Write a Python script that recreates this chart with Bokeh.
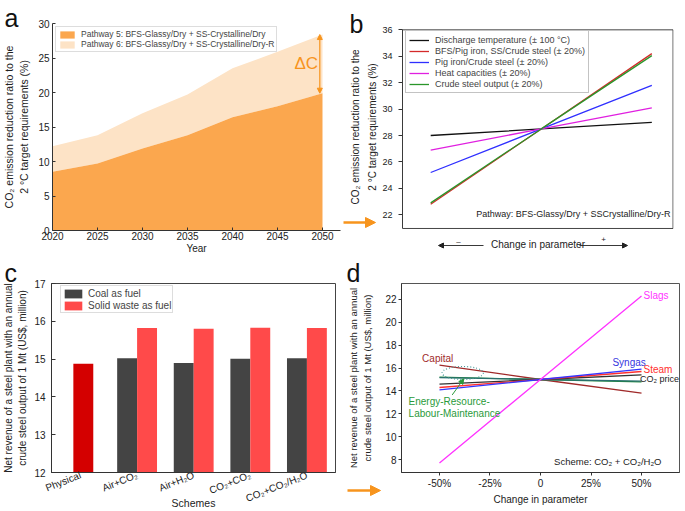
from bokeh.plotting import figure
from bokeh.layouts import row, column
from bokeh.models import Range1d, Legend, LegendItem, Label, Arrow, NormalHead, BoxAnnotation
from bokeh.embed import file_html
from bokeh.resources import INLINE

FONT = "Liberation Sans"
ORANGE = "#f7941d"

# ---------------- data ----------------
# panel a
years = [2020, 2025, 2030, 2035, 2040, 2045, 2050]
pathway5 = [8.5, 9.7, 11.9, 13.8, 16.4, 18.0, 19.9]
pathway6 = [12.2, 13.8, 17.0, 19.7, 23.5, 25.9, 28.4]
a_yticks = [0, 5, 10, 15, 20, 25, 30]
a_legend = ["Pathway 5: BFS-Glassy/Dry + SS-Crystalline/Dry",
            "Pathway 6: BFS-Glassy/Dry + SS-Crystalline/Dry-R"]

# panel b
b_change = [-1, 0, 1]
b_discharge = [28.0, 28.5, 29.0]
b_bfs = [22.8, 28.5, 34.2]
b_pigiron = [25.2, 28.5, 31.8]
b_heatcap = [26.9, 28.5, 30.1]
b_output = [22.9, 28.5, 34.05]
b_names = ["Discharge temperature (\u00b1 100 \u00b0C)",
           "BFS/Pig iron, SS/Crude steel (\u00b1 20%)",
           "Pig iron/Crude steel (\u00b1 20%)",
           "Heat capacities (\u00b1 20%)",
           "Crude steel output (\u00b1 20%)"]
b_yticks = [22, 24, 26, 28, 30, 32, 34, 36]

# panel c
schemes = ["Physical", "Air+CO\u2082", "Air+H\u2082O", "CO\u2082+CO\u2082", "CO\u2082+CO\u2082/H\u2082O"]
physical_rev = [14.88]
coal_rev = [15.02, 14.90, 15.01, 15.02]
waste_rev = [15.82, 15.80, 15.83, 15.82]
c_yticks = [12, 13, 14, 15, 16, 17]

# panel d
d_change = [-50, 0, 50]
d_slags = [7.7, 15.0, 22.3]
d_capital = [16.25, 15.0, 13.8]
d_syngas = [14.1, 15.0, 15.9]
d_steam = [14.3, 15.0, 15.7]
d_co2price = [14.6, 15.0, 15.4]
d_energy = [15.2, 15.0, 14.8]
d_resource = [15.17, 15.0, 14.86]
d_xticks = [-50, -25, 0, 25, 50]
d_xlabels = ["-50%", "-25%", "0", "25%", "50%"]
d_yticks = [8, 10, 12, 14, 16, 18, 20, 22]

YT_AB = "CO\u2082 emission reduction ratio to the\n2 \u00b0C target requirements (%)"
YT_CD = "Net revenue of a steel plant with an annual\ncrude steel output of 1 Mt (US$, million)"


def base(p):
    p.xgrid.visible = False
    p.ygrid.visible = False
    for ax in p.axis:
        ax.axis_line_color = "#333333"
        ax.major_tick_line_color = "#333333"
        ax.minor_tick_line_color = None
        ax.major_label_text_font = FONT
        ax.axis_label_text_font = FONT
        ax.axis_label_text_font_style = "normal"
        ax.major_label_text_color = "#222222"
        ax.axis_label_text_color = "#222222"
    p.background_fill_color = "white"
    p.border_fill_color = "white"


# ---------------- panel a ----------------
pa = figure(width=343, height=258, x_range=Range1d(2020, 2052), y_range=Range1d(0, 30),
            output_backend="svg", toolbar_location=None,
            min_border_left=52, min_border_right=3, min_border_top=23, min_border_bottom=28)
base(pa)
pa.outline_line_color = None
r6 = pa.varea(x=years, y1=pathway5, y2=pathway6, fill_color="#fde3c6")
r5 = pa.varea(x=years, y1=0, y2=pathway5, fill_color="#fba74e")
pa.xaxis.ticker = years
pa.yaxis.ticker = a_yticks
for ax in pa.axis:
    ax.major_tick_in = 3
    ax.major_tick_out = 0
    ax.major_label_text_font_size = "10px"
    ax.major_label_standoff = 1
pa.yaxis.major_label_standoff = 3
pa.xaxis.axis_label = "Year"
pa.xaxis.axis_label_text_font_size = "10px"
pa.xaxis.axis_label_standoff = 0
pa.yaxis.axis_label = YT_AB
pa.yaxis.axis_label_text_font_size = "10.5px"
pa.yaxis.axis_label_text_line_height = 1.25
pa.yaxis.axis_label_standoff = 5
leg_a = Legend(items=[LegendItem(label=a_legend[0], renderers=[r5]),
                      LegendItem(label=a_legend[1], renderers=[r6])],
               location="top_left", margin=3, padding=2, spacing=0,
               label_height=10, glyph_height=9, glyph_width=18, label_standoff=5,
               label_text_font=FONT, label_text_font_size="8.5px", label_text_line_height=1.0,
               border_line_color="#bbbbbb", background_fill_alpha=1)
pa.add_layout(leg_a)
pa.add_layout(Arrow(x_start=years[-1] - 0.3, y_start=pathway5[-1], x_end=years[-1] - 0.3, y_end=pathway6[-1],
                    line_color=ORANGE, line_width=1.2,
                    start=NormalHead(size=5, fill_color=ORANGE, line_color=ORANGE),
                    end=NormalHead(size=5, fill_color=ORANGE, line_color=ORANGE)))
pa.add_layout(Label(x=years[-1] - 1.8, y=(pathway5[-1] + pathway6[-1]) / 2, text="\u0394C",
                    text_font=FONT, text_font_size="17px", text_color=ORANGE,
                    text_align="center", text_baseline="middle"))

# ---------------- panel b ----------------
# same top/bottom borders as panel a (row alignment); the box is drawn separately
b_xr = Range1d(-1.255, 1.196)
b_box = (20.963, 36.0)
pb = figure(width=342, height=258, x_range=b_xr, y_range=Range1d(20.81, 36.48),
            output_backend="svg", toolbar_location=None,
            min_border_left=59, min_border_right=12, min_border_top=23, min_border_bottom=28)
base(pb)
pb.outline_line_color = None
pb.add_layout(BoxAnnotation(left=b_xr.start, right=b_xr.end - 0.004, bottom=b_box[0], top=b_box[1],
                            fill_alpha=0, line_color="#444444", line_width=1, line_alpha=1))
pb.xaxis.ticker = []
pb.xaxis.axis_line_color = None
pb.xaxis.major_tick_out = 0
pb.xaxis.major_tick_in = 0
pb.xaxis.major_label_standoff = 0
pb.xaxis.axis_label = "Change in parameter"
pb.xaxis.axis_label_text_font_size = "10px"
pb.xaxis.axis_label_standoff = 8
pb.yaxis.bounds = b_box
pb.yaxis.ticker = b_yticks
pb.yaxis.major_tick_in = 0
pb.yaxis.major_tick_out = 4
pb.yaxis.major_label_standoff = 6
pb.yaxis.major_label_text_font_size = "9px"
pb.yaxis.axis_label = YT_AB
pb.yaxis.axis_label_text_font_size = "10px"
pb.yaxis.axis_label_text_line_height = 1.6
pb.yaxis.axis_label_standoff = 1
b_series = [b_discharge, b_bfs, b_pigiron, b_heatcap, b_output]
b_colors = ["#111111", "#d42a2a", "#2f2fff", "#e020e0", "#2a962a"]
b_items = []
for name, ys, col in zip(b_names, b_series, b_colors):
    r = pb.line(x=b_change, y=ys, line_color=col, line_width=1.3)
    b_items.append(LegendItem(label=name, renderers=[r]))
leg_b = Legend(items=b_items, location=(3, 137), margin=0, padding=3, spacing=0,
               label_height=11, glyph_height=10, glyph_width=20, label_standoff=6,
               label_text_font=FONT, label_text_font_size="9px", label_text_line_height=1.0,
               border_line_color="#888888")
pb.add_layout(leg_b)
pb.add_layout(Label(x=268, y=17, x_units="screen", y_units="screen",
                    text="Pathway: BFS-Glassy/Dry + SSCrystalline/Dry-R",
                    text_font=FONT, text_font_size="9px", text_color="#222222",
                    text_align="right", text_baseline="middle"))

# ---------------- panel c ----------------
pc = figure(width=343, height=253, x_range=Range1d(-0.512, 4.505), y_range=Range1d(12, 17),
            output_backend="svg", toolbar_location=None,
            min_border_left=46, min_border_right=8, min_border_top=25, min_border_bottom=38)
base(pc)
pc.outline_line_color = "#444444"
bw = 0.352
pc.vbar(x=[0.05], top=physical_rev, bottom=12, width=bw, fill_color="#d40000", line_color=None)
rc1 = pc.vbar(x=[i - bw / 2 for i in range(1, 5)], top=coal_rev, bottom=12, width=bw,
              fill_color="#444444", line_color=None)
rc2 = pc.vbar(x=[i + bw / 2 for i in range(1, 5)], top=waste_rev, bottom=12, width=bw,
              fill_color="#ff4a4a", line_color=None)
pc.xaxis.ticker = list(range(len(schemes)))
pc.xaxis.major_label_overrides = {i: s for i, s in enumerate(schemes)}
pc.xaxis.major_label_orientation = 0.38
pc.xaxis.major_tick_in = 0
pc.xaxis.major_tick_out = 0
pc.xaxis.major_label_standoff = 2
pc.xaxis.major_label_text_font_size = "10px"
pc.xaxis.axis_label = "Schemes"
pc.xaxis.axis_label_text_font_size = "10.5px"
pc.xaxis.axis_label_standoff = -15
pc.yaxis.ticker = c_yticks
pc.yaxis.major_tick_in = 4
pc.yaxis.major_tick_out = 0
pc.yaxis.major_label_standoff = 6
pc.yaxis.major_label_text_font_size = "10px"
pc.yaxis.axis_label = YT_CD
pc.yaxis.axis_label_text_font_size = "10px"
pc.yaxis.axis_label_text_line_height = 1.3
pc.yaxis.axis_label_standoff = 3
leg_c = Legend(items=[LegendItem(label="Coal as fuel", renderers=[rc1]),
                      LegendItem(label="Solid waste as fuel", renderers=[rc2])],
               location=(9, 159), margin=0, padding=1, spacing=0,
               label_height=12, glyph_height=11, glyph_width=22, label_standoff=4,
               label_text_font=FONT, label_text_font_size="10px", label_text_line_height=1.0,
               border_line_color="#bbbbbb")
pc.add_layout(leg_c)

# ---------------- panel d ----------------
# same top/bottom borders as panel c (row alignment)
pd = figure(width=342, height=253, x_range=Range1d(-68.8, 68.8), y_range=Range1d(6.87, 23.39),
            output_backend="svg", toolbar_location=None,
            min_border_left=58, min_border_right=6, min_border_top=25, min_border_bottom=38)
base(pd)
pd.outline_line_color = "#555555"
d_series = [(d_capital, "#a02a2a"), (d_energy, "#1f8a3c"), (d_resource, "#2a6f6f"),
            (d_co2price, "#333333"), (d_steam, "#ff3030"), (d_syngas, "#3535ff"), (d_slags, "#ff33ff")]
for ys, col in d_series:
    pd.line(x=d_change, y=ys, line_color=col, line_width=1.3)
pd.ellipse(x=[-38.5], y=[15.57], width=[20.4], height=[1.13], fill_color=None,
           line_color="#4a9a9a", line_dash="1 2", line_width=1.2)
pd.add_layout(Arrow(x_start=-43.7, y_start=13.65, x_end=-38.0, y_end=15.05,
                    line_color="#2a9a3a", line_width=1,
                    end=NormalHead(size=5, fill_color="#2a9a3a", line_color="#2a9a3a")))
d_text = [("Slags", 51, 22.35, "#ff33ff", "10px"), ("Capital", -58.6, 16.8, "#a02a2a", "10px"),
          ("Syngas", 35.6, 16.45, "#3535e0", "10px"), ("Steam", 51, 15.9, "#ff3030", "10px"),
          ("CO\u2082 price", 49.3, 15.0, "#222222", "9px"),
          ("Energy-Resource-", -65.3, 13.05, "#2a9a3a", "10px"),
          ("Labour-Maintenance", -65.3, 12.0, "#2a9a3a", "10px")]
for t, x, y, col, fs in d_text:
    pd.add_layout(Label(x=x, y=y, text=t, text_font=FONT, text_font_size=fs, text_color=col,
                        text_align="left", text_baseline="middle"))
pd.add_layout(Label(x=260, y=11, x_units="screen", y_units="screen",
                    text="Scheme: CO\u2082 + CO\u2082/H\u2082O",
                    text_font=FONT, text_font_size="9.5px", text_color="#222222",
                    text_align="right", text_baseline="middle"))
pd.xaxis.ticker = d_xticks
pd.xaxis.major_label_overrides = {t: l for t, l in zip(d_xticks, d_xlabels)}
pd.yaxis.ticker = d_yticks
for ax in pd.axis:
    ax.major_tick_in = 0
    ax.major_tick_out = 3
    ax.major_label_text_font_size = "10px"
    ax.major_label_standoff = 2
pd.xaxis.axis_label = "Change in parameter"
pd.xaxis.axis_label_text_font_size = "10px"
pd.xaxis.axis_label_standoff = 2
pd.yaxis.axis_label = YT_CD
pd.yaxis.axis_label_text_font_size = "9.5px"
pd.yaxis.axis_label_text_line_height = 1.3
pd.yaxis.axis_label_standoff = 9

# ---------------- overlay: panel letters and connecting arrows (page pixels) ----------------
ov = figure(width=685, height=511, x_range=Range1d(0, 685), y_range=Range1d(511, 0),
            x_axis_type=None, y_axis_type=None, output_backend="svg", toolbar_location=None,
            min_border=0, min_border_left=0, min_border_right=0, min_border_top=0, min_border_bottom=0,
            styles={"position": "absolute", "top": "0px", "left": "0px", "z-index": "10"})
ov.outline_line_color = None
ov.background_fill_alpha = 0
ov.border_fill_alpha = 0
for txt, x, y in [("a", 4, 17), ("b", 349, 23), ("c", 4, 272), ("d", 346, 272)]:
    ov.add_layout(Label(x=x, y=y, text=txt, text_font=FONT, text_font_size="25px", text_color="#111111",
                        text_align="left", text_baseline="alphabetic"))
for x0, x1, y in [(343, 375, 222), (347, 380, 490)]:
    ov.add_layout(Arrow(x_start=x0, y_start=y, x_end=x1, y_end=y, line_color=ORANGE, line_width=2.5,
                        end=NormalHead(size=10, fill_color=ORANGE, line_color=ORANGE, line_width=1)))
for x0, x1 in [(483, 438), (579, 627)]:
    ov.add_layout(Arrow(x_start=x0, y_start=245, x_end=x1, y_end=245, line_color="#222222", line_width=0.9,
                        end=NormalHead(size=5, fill_color="#222222", line_color="#222222", line_width=1)))
ov.add_layout(Label(x=458, y=241, text="\u2013", text_font=FONT, text_font_size="8px",
                    text_align="center", text_baseline="middle", text_color="#222222"))
ov.add_layout(Label(x=603, y=239, text="+", text_font=FONT, text_font_size="8px",
                    text_align="center", text_baseline="middle", text_color="#222222"))

layout = column(row(pa, pb), row(pc, pd), ov)
open("out.html", "w").write(file_html(layout, INLINE))
